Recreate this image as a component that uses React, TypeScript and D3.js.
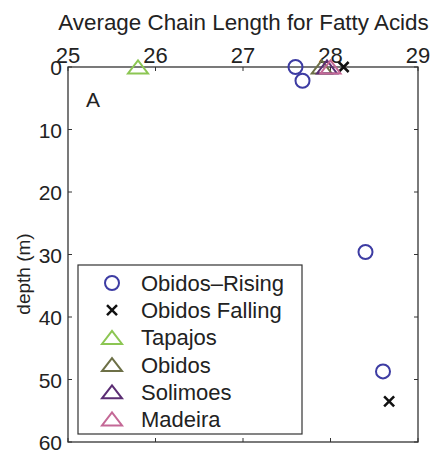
import React from 'react';
import { scaleLinear } from 'd3';

const xTicks = [25, 26, 27, 28, 29];
const yTicks = [0, 10, 20, 30, 40, 50, 60];

const risingX = [27.6, 27.68, 28.4, 28.6];
const risingDepth = [0, 2.2, 29.6, 48.7];
const fallingX = [28.15, 28.67];
const fallingDepth = [0, 53.5];
const tapajosX = [25.8];
const tapajosDepth = [0];
const obidosX = [27.9];
const obidosDepth = [0];
const solimoesX = [27.96];
const solimoesDepth = [0];
const madeiraX = [28.0];
const madeiraDepth = [0];

const legendNames = ['Obidos\u2013Rising', 'Obidos Falling', 'Tapajos', 'Obidos', 'Solimoes', 'Madeira'];

const frame = { left: 68, right: 418, top: 67, bottom: 442 };
const font = 'Liberation Sans, Arial, Helvetica, sans-serif';

const colors = {
  rising: '#3d3ca3',
  falling: '#111',
  tapajos: '#8cc653',
  obidos: '#6d7047',
  solimoes: '#5b2d73',
  madeira: '#c46896',
};

function Triangle({ x, y, color }: { x: number; y: number; color: string }) {
  const w = 10, h = 13;
  return (
    <path
      d={`M${x - w},${y + h / 2}L${x + w},${y + h / 2}L${x},${y - h / 2}Z`}
      fill="none"
      stroke={color}
      strokeWidth={2}
    />
  );
}

function Cross({ x, y, color }: { x: number; y: number; color: string }) {
  const s = 5;
  return (
    <path
      d={`M${x - s},${y - s}L${x + s},${y + s}M${x - s},${y + s}L${x + s},${y - s}`}
      stroke={color}
      strokeWidth={2.5}
    />
  );
}

function Circle({ x, y, color }: { x: number; y: number; color: string }) {
  return <circle cx={x} cy={y} r={7} fill="none" stroke={color} strokeWidth={2} />;
}

export default function App() {
  const x = scaleLinear().domain([25, 29]).range([frame.left, frame.right]);
  const y = scaleLinear().domain([0, 60]).range([frame.top, frame.bottom]);

  const legendTop = 265;
  const legendStep = 27.2;
  const legendMarkers = [
    (cx: number, cy: number) => <Circle x={cx} y={cy} color={colors.rising} />,
    (cx: number, cy: number) => <Cross x={cx} y={cy} color={colors.falling} />,
    (cx: number, cy: number) => <Triangle x={cx} y={cy} color={colors.tapajos} />,
    (cx: number, cy: number) => <Triangle x={cx} y={cy} color={colors.obidos} />,
    (cx: number, cy: number) => <Triangle x={cx} y={cy} color={colors.solimoes} />,
    (cx: number, cy: number) => <Triangle x={cx} y={cy} color={colors.madeira} />,
  ];

  return (
    <svg width={435} height={453} style={{ position: 'absolute', left: 0, top: 0, background: '#fff' }}>
      <text x={243.5} y={30} textAnchor="middle" fontFamily={font} fontSize={22.4} fill="#222">
        Average Chain Length for Fatty Acids
      </text>

      {/* frame */}
      <rect
        x={frame.left}
        y={frame.top}
        width={frame.right - frame.left}
        height={frame.bottom - frame.top}
        fill="none"
        stroke="#333"
        strokeWidth={1.3}
      />

      {/* x ticks (top + bottom, inward) */}
      {xTicks.map((t) => (
        <g key={'x' + t}>
          <line x1={x(t)} x2={x(t)} y1={frame.top} y2={frame.top + 4} stroke="#333" />
          <line x1={x(t)} x2={x(t)} y1={frame.bottom} y2={frame.bottom - 4} stroke="#333" />
          <text x={x(t)} y={63} textAnchor="middle" fontFamily={font} fontSize={22} fill="#222">
            {t}
          </text>
        </g>
      ))}

      {/* y ticks (left + right, inward) */}
      {yTicks.map((t) => (
        <g key={'y' + t}>
          <line x1={frame.left} x2={frame.left + 4} y1={y(t)} y2={y(t)} stroke="#333" />
          <line x1={frame.right} x2={frame.right - 4} y1={y(t)} y2={y(t)} stroke="#333" />
          <text x={62} y={y(t) + 8} textAnchor="end" fontFamily={font} fontSize={21} fill="#222">
            {t}
          </text>
        </g>
      ))}

      <text
        transform={`translate(30,${274}) rotate(-90)`}
        textAnchor="middle"
        fontFamily={font}
        fontSize={19}
        fill="#222"
      >
        depth (m)
      </text>

      <text x={86} y={107} fontFamily={font} fontSize={21} fill="#222">
        A
      </text>

      {/* data */}
      {risingX.map((v, i) => (
        <Circle key={'r' + i} x={x(v)} y={y(risingDepth[i])} color={colors.rising} />
      ))}
      {fallingX.map((v, i) => (
        <Cross key={'f' + i} x={x(v)} y={y(fallingDepth[i])} color={colors.falling} />
      ))}
      {tapajosX.map((v, i) => (
        <Triangle key={'t' + i} x={x(v)} y={y(tapajosDepth[i])} color={colors.tapajos} />
      ))}
      {obidosX.map((v, i) => (
        <Triangle key={'o' + i} x={x(v)} y={y(obidosDepth[i])} color={colors.obidos} />
      ))}
      {solimoesX.map((v, i) => (
        <Triangle key={'s' + i} x={x(v)} y={y(solimoesDepth[i])} color={colors.solimoes} />
      ))}
      {madeiraX.map((v, i) => (
        <Triangle key={'m' + i} x={x(v)} y={y(madeiraDepth[i])} color={colors.madeira} />
      ))}

      {/* legend */}
      <rect x={78} y={legendTop} width={224} height={169} fill="#fff" stroke="#333" strokeWidth={1.2} />
      {legendNames.map((name, i) => {
        const cy = legendTop + 18 + i * legendStep;
        return (
          <g key={name}>
            {legendMarkers[i](112, cy)}
            <text x={141} y={cy + 8} fontFamily={font} fontSize={22} fill="#222">
              {name}
            </text>
          </g>
        );
      })}
    </svg>
  );
}
